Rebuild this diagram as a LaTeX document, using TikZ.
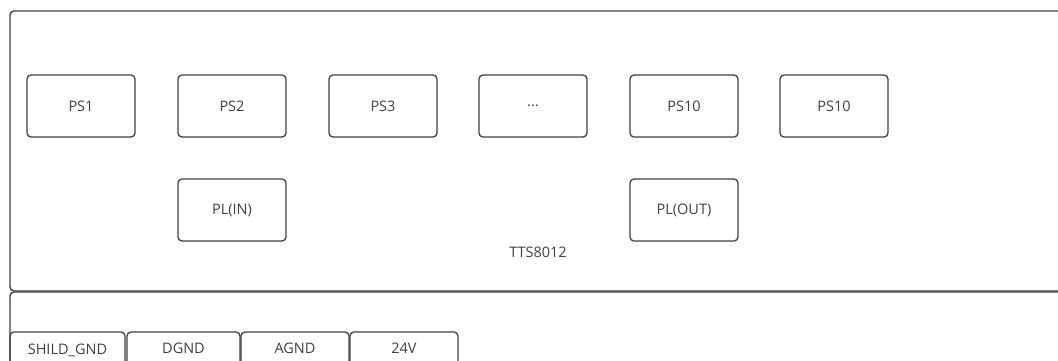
\documentclass[tikz,border=0pt]{standalone}
\usepackage{fontspec}
\setmainfont{Open Sans}
\begin{document}
\begin{tikzpicture}[x=1pt,y=-1pt,
  frame/.style={draw=black!75,line width=1.4pt,rounded corners=4pt},
  blk/.style={draw=black!75,line width=1.3pt,rounded corners=4pt,minimum width=108pt,minimum height=62pt,text=black!75,font=\fontsize{14.5}{16}\selectfont,inner sep=0pt},
  lbl/.style={text=black!75,font=\fontsize{14.5}{16}\selectfont,inner sep=0pt}]
\useasboundingbox (0,0) rectangle (1058,360);
\clip (0,0) rectangle (1058,360);
\fill[white] (0,0) rectangle (1058,360);
% outer frames
\draw[frame] (10,11) rectangle (1080,291);
\draw[frame] (10,292) rectangle (1080,400);
% PS blocks
\node[blk] (ps1) at (81,106) {PS1};
\node[blk] (ps2) at (232,106) {PS2};
\node[blk] (ps3) at (383,106) {PS3};
\node[blk] (psd) at (533,106) {...};
\node[blk] (ps10a) at (684,106) {PS10};
\node[blk] (ps10b) at (834,106) {PS10};
\node[blk] (plin) at (232,210) {PL(IN)};
\node[blk] (plout) at (684,210) {PL(OUT)};
\node[lbl] (tts) at (538,252) {TTS8012};
% bottom tabs
\draw[frame,line width=1.3pt] (10,332) rectangle (125,380);
\draw[frame,line width=1.3pt] (127,332) rectangle (240,380);
\draw[frame,line width=1.3pt] (241,332) rectangle (349,380);
\draw[frame,line width=1.3pt] (350,332) rectangle (458,380);
\node[lbl] (t1) at (67.5,350) {SHILD\_GND};
\node[lbl] (t2) at (183.5,348) {DGND};
\node[lbl] (t3) at (295,348) {AGND};
\node[lbl] (t4) at (404,348) {24V};
\end{tikzpicture}
\end{document}
